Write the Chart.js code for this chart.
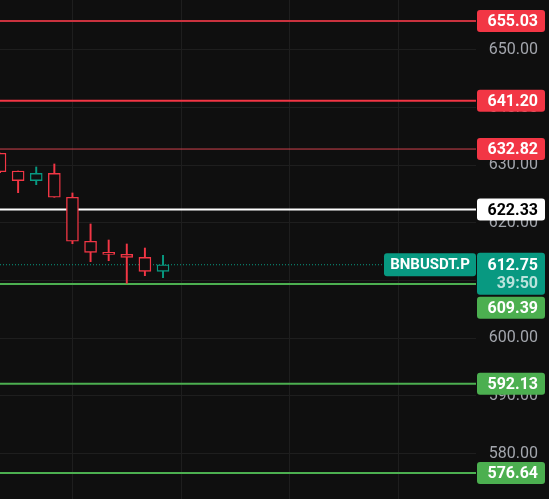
<!DOCTYPE html>
<html lang="en">
<head>
<meta charset="UTF-8">
<title>BNBUSDT.P</title>
<script src="https://cdn.jsdelivr.net/npm/chart.js"></script>
<style>
  html, body { margin: 0; padding: 0; background: #0f0f0f; overflow: hidden; }
  #wrap { width: 549px; height: 499px; }
</style>
</head>
<body>
<div id="wrap">
  <canvas id="grafico" width="549" height="499"></canvas>
</div>
<script>
// candles (index = bar number)
const candleIdx = [0, 1, 2, 3, 4, 5, 6, 7, 8, 9];
const opens  = [632.08, 629.01, 627.33, 628.61, 624.45, 616.82, 614.91, 614.56, 614.04, 611.61];
const highs  = [632.10, 629.01, 629.71, 630.23, 625.20, 619.82, 617.04, 616.35, 615.65, 614.39];
const lows   = [628.72, 625.25, 626.64, 624.45, 616.40, 613.28, 613.45, 609.53, 610.85, 610.51];
const closes = [628.89, 627.33, 628.61, 624.45, 616.82, 614.91, 614.56, 614.04, 611.61, 612.75];

// horizontal levels
const levelValues = [655.03, 641.20, 632.82, 622.33, 609.39, 592.13, 576.64];
const levelColors = ['#c9323e', '#f23645', '#d0404b', '#ffffff', '#4caf50', '#4caf50', '#4caf50'];
const levelBoxColors = ['#f23645', '#f23645', '#f23645', '#ffffff', '#4caf50', '#4caf50', '#4caf50'];
const levelWidths = [2, 2, 1, 2, 2, 2, 2];

const lastPrice = 612.75;
const symbolName = 'BNBUSDT.P';
const countdown = '39:50';

const yTicks = [580, 590, 600, 610, 620, 630, 640, 650];
const xGrid = [4, 10, 16, 22];

const RED = '#f23645';
const GREEN = '#089981';
const BG = '#0f0f0f';
const X_MAX = 26.28;

const isUp = (i) => closes[i] >= opens[i];

const datasets = [];

// bodies on top (order 0), wicks behind
datasets.push({
  type: 'bar',
  order: 0,
  grouped: false,
  data: candleIdx.map(i => ({ x: i, y: [opens[i], closes[i]] })),
  backgroundColor: BG,
  borderColor: candleIdx.map(i => isUp(i) ? GREEN : RED),
  borderWidth: 1.4,
  borderSkipped: false,
  barThickness: 12
});
datasets.push({
  type: 'bar',
  order: 1,
  grouped: false,
  data: candleIdx.map(i => ({ x: i, y: [lows[i], highs[i]] })),
  backgroundColor: candleIdx.map(i => isUp(i) ? GREEN : RED),
  borderWidth: 0,
  barThickness: 1.3
});

levelValues.forEach((v, k) => {
  datasets.push({
    type: 'line',
    order: 2,
    data: [{ x: 0, y: v }, { x: X_MAX, y: v }],
    borderColor: levelColors[k],
    borderWidth: levelWidths[k],
    pointRadius: 0
  });
});
// last price dotted line
datasets.push({
  type: 'line',
  order: 2,
  data: [{ x: 0, y: lastPrice }, { x: X_MAX, y: lastPrice }],
  borderColor: GREEN,
  borderWidth: 1,
  borderDash: [1, 2],
  pointRadius: 0
});

const fundo = {
  id: 'fundo',
  beforeDraw(chart) {
    const c = chart.ctx;
    c.save();
    c.fillStyle = BG;
    c.fillRect(0, 0, chart.width, chart.height);
    c.restore();
  }
};

function caixa(c, x, y, w, h, cor) {
  c.fillStyle = cor;
  c.beginPath();
  c.roundRect(x, y, w, h, 3);
  c.fill();
}

const etiquetas = {
  id: 'etiquetas',
  afterDraw(chart) {
    const c = chart.ctx;
    const ys = chart.scales.y;
    const bx = chart.chartArea.right + 1;
    const bw = 68;
    const tx = 538;
    c.save();
    c.textAlign = 'right';
    c.textBaseline = 'middle';

    // last price block
    const py = ys.getPixelForValue(lastPrice);
    caixa(c, bx, py - 12, bw, 42, GREEN);
    c.font = 'bold 16px Roboto';
    c.fillStyle = '#ffffff';
    c.fillText(lastPrice.toFixed(2), tx, py + 1.5);
    c.fillStyle = 'rgba(255,255,255,0.72)';
    c.fillText(countdown, tx, py + 19.5);
    const priceBottom = py + 30;

    // symbol tag
    caixa(c, 384, py - 11.5, 92, 23, GREEN);
    c.textAlign = 'center';
    c.fillStyle = '#ffffff';
    c.font = 'bold 15px Roboto';
    c.fillText(symbolName, 430, py + 0.5);
    c.textAlign = 'right';

    levelValues.forEach((v, k) => {
      const y = ys.getPixelForValue(v);
      let top = y - 11;
      if (top < priceBottom + 2 && top + 22 > py - 12) top = priceBottom + 2;
      caixa(c, bx, top, bw, 22, levelBoxColors[k]);
      c.font = 'bold 16px Roboto';
      c.fillStyle = levelBoxColors[k] === '#ffffff' ? '#000000' : '#ffffff';
      c.fillText(v.toFixed(2), tx, top + 12);
    });
    c.restore();
  }
};

new Chart(document.getElementById('grafico'), {
  type: 'bar',
  data: { datasets: datasets },
  options: {
    responsive: false,
    animation: false,
    layout: { padding: { left: 0, top: 0, bottom: 0, right: 11 } },
    plugins: { legend: { display: false }, tooltip: { enabled: false } },
    scales: {
      x: {
        type: 'linear',
        min: 0,
        max: X_MAX,
        offset: false,
        afterBuildTicks: (s) => { s.ticks = xGrid.map(v => ({ value: v })); },
        ticks: { display: false },
        grid: { color: '#1e1e1e', drawTicks: false, offset: false },
        border: { display: false }
      },
      y: {
        type: 'linear',
        position: 'right',
        min: 572.12,
        max: 658.67,
        afterBuildTicks: (s) => { s.ticks = yTicks.map(v => ({ value: v })); },
        afterFit: (s) => { s.width = 62; s.paddingTop = 0; s.paddingBottom = 0; },
        ticks: {
          crossAlign: 'far',
          color: '#a3a6ad',
          font: { family: 'Roboto', size: 16 },
          callback: (v) => Number(v).toFixed(2)
        },
        grid: { color: '#1e1e1e', drawTicks: false },
        border: { display: false }
      }
    }
  },
  plugins: [fundo, etiquetas]
});
</script>
</body>
</html>
